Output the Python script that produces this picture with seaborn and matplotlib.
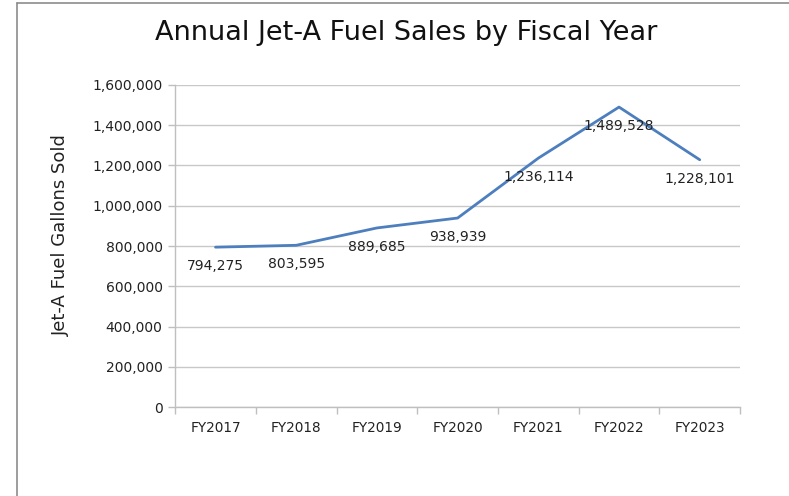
import matplotlib
matplotlib.use("Agg")
import matplotlib.pyplot as plt
import seaborn as sns
import pandas as pd
import numpy as np
from matplotlib.ticker import FuncFormatter, MultipleLocator, FixedLocator

years = ["FY2017", "FY2018", "FY2019", "FY2020", "FY2021", "FY2022", "FY2023"]
gallons = [794275, 803595, 889685, 938939, 1236114, 1489528, 1228101]

df = pd.DataFrame({"year": years, "gallons": gallons})

sns.set_theme(style="white")
plt.rcParams['font.family'] = ['DejaVu Sans']

fig = plt.figure(figsize=(7.89, 4.96), dpi=100)
ax = fig.add_axes([0.222, 0.179, 0.716, 0.650])

sns.lineplot(data=df, x="year", y="gallons", ax=ax, color="#4d7fbe", linewidth=2, sort=False)

for i, v in enumerate(gallons):
    ax.annotate(f"{v:,}", (i, v), xytext=(0, -13.5), textcoords="offset points",
                ha="center", va="center", fontsize=10, color="#222222")

ax.set_xlim(-0.5, 6.5)
ax.set_ylim(0, 1600000)
ax.yaxis.set_major_locator(MultipleLocator(200000))
ax.yaxis.set_major_formatter(FuncFormatter(lambda v, p: f"{int(v):,}"))
ax.grid(axis="y", color="#c8c8c8", linewidth=1)
ax.set_axisbelow(True)

ax.xaxis.set_minor_locator(FixedLocator(np.arange(-0.5, 7, 1)))
ax.tick_params(axis="x", which="major", bottom=False, length=0, pad=10, labelsize=9.8, colors="#222222")
ax.tick_params(axis="x", which="minor", bottom=True, length=5, color="#bfbfbf", width=1, direction="out")
ax.tick_params(axis="y", which="major", left=True, length=5, color="#bfbfbf", width=1, direction="out",
               labelsize=10, labelcolor="#222222", pad=4)

for s in ["top", "right"]:
    ax.spines[s].set_visible(False)
for s in ["left", "bottom"]:
    ax.spines[s].set_color("#bfbfbf")
    ax.spines[s].set_linewidth(1)

ax.set_xlabel("")
ax.set_ylabel("Jet-A Fuel Gallons Sold", fontsize=13, color="#222222")
ax.yaxis.set_label_coords(-0.187, 0.535)
fig.text(0.515, 0.933, "Annual Jet-A Fuel Sales by Fiscal Year", ha="center", va="center",
         fontsize=19.5, color="#111111")

# chart border (left and top)
fig.add_artist(plt.Line2D([0.022, 0.022], [0, 0.994], color="#8c8c8c", linewidth=1.2, transform=fig.transFigure))
fig.add_artist(plt.Line2D([0.022, 1.0], [0.994, 0.994], color="#8c8c8c", linewidth=1.2, transform=fig.transFigure))

fig.savefig("out.png", dpi=100, facecolor="white")
